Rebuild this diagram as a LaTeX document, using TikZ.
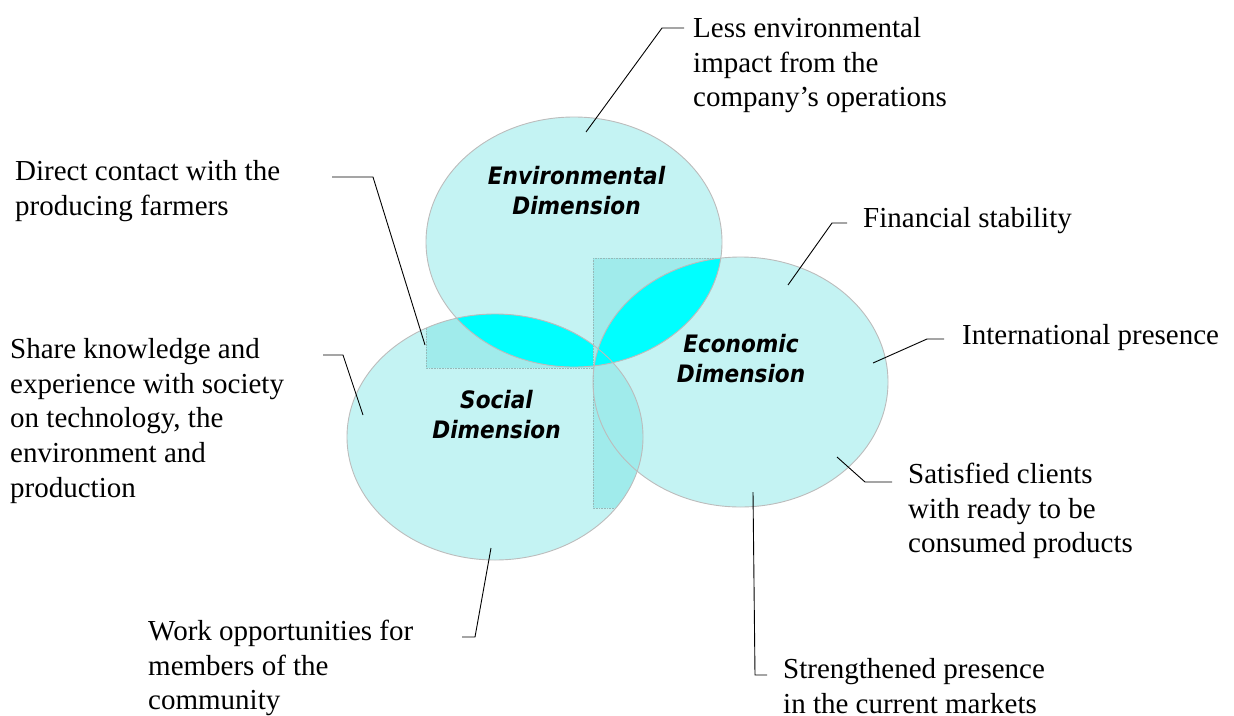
\documentclass[tikz,border=0pt]{standalone}
\usepackage{fontspec}
\setmainfont{Liberation Serif}
\newfontfamily\titlefont{DejaVu Sans Condensed}
\begin{document}
\begin{tikzpicture}[x=1pt,y=-1pt,
  lightfill/.style={fill=lightcyan},
  tintfill/.style={fill=tintcyan},
  lensfill/.style={fill=lenscyan},
  rim/.style={draw=rimgray, line width=0.9pt},
  boxedge/.style={draw=edgegray, line width=0.6pt, densely dotted},
  leader/.style={draw=black, line width=0.9pt},
  label/.style={anchor=north west, inner sep=0pt, align=left,
    font=\fontsize{29}{34.8}\selectfont},
  dimtitle/.style={anchor=north, inner sep=0pt, align=center,
    font=\titlefont\bfseries\itshape\fontsize{24}{30}\selectfont}]

\definecolor{lightcyan}{RGB}{196,243,243}
\definecolor{tintcyan}{RGB}{160,235,235}
\definecolor{lenscyan}{RGB}{0,255,255}
\definecolor{rimgray}{RGB}{188,188,188}
\definecolor{edgegray}{RGB}{150,185,185}

\newcommand\envshape{(574,242) ellipse [x radius=148pt, y radius=125pt]}
\newcommand\socshape{(495,437) ellipse [x radius=148pt, y radius=123pt]}
\newcommand\ecoshape{(740.5,382) ellipse [x radius=147.5pt, y radius=125pt]}
\newcommand\leftbox{(426,243) rectangle (597,368)}
\newcommand\rightbox{(593,258) rectangle (741,508)}
\newcommand\strutA{\rule{0pt}{24pt}}
\newcommand\strutB{\rule{0pt}{22pt}}

\useasboundingbox (0,0) rectangle (1234,715);

% base discs
\path[lightfill] \envshape;
\path[lightfill] \socshape;
\path[lightfill] \ecoshape;

% shaded block under the social/environmental overlap
\begin{scope}
  \clip \socshape;
  \path[tintfill] \leftbox;
  \path[boxedge] \leftbox;
\end{scope}

% environmental / social overlap
\begin{scope}
  \clip \envshape;
  \path[lensfill] \socshape;
\end{scope}

% shaded block along the left side of the economic disc
\begin{scope}
  \clip \socshape;
  \path[tintfill] \rightbox;
  \path[boxedge] \rightbox;
\end{scope}
\begin{scope}
  \clip \envshape;
  \path[tintfill] \rightbox;
  \path[boxedge] \rightbox;
\end{scope}

% environmental / economic overlap
\begin{scope}
  \clip \envshape;
  \path[lensfill] \ecoshape;
\end{scope}

% outlines
\path[rim] \envshape;
\path[rim] \socshape;
\path[rim] \ecoshape;

% dimension titles
\node[dimtitle] (envtitle) at (576.5,162) {\strutB Environmental\\Dimension};
\node[dimtitle] (ecotitle) at (741,330) {\strutB Economic\\Dimension};
\node[dimtitle] (soctitle) at (496.5,386) {\strutB Social\\Dimension};

% outer labels
\node[label] (lessimpact) at (693,13) {\strutA Less environmental\\impact from the\\company’s operations};
\node[label] (directcontact) at (15,156) {\strutA Direct contact with the\\producing farmers};
\node[label] (shareknow) at (10,334) {\strutA Share knowledge and\\experience with society\\on technology, the\\environment and\\production};
\node[label] (financial) at (863,203) {\strutA Financial stability};
\node[label] (international) at (962,320) {\strutA International presence};
\node[label] (satisfied) at (908,459) {\strutA Satisfied clients\\with ready to be\\consumed products};
\node[label] (strengthened) at (783,654) {\strutA Strengthened presence\\in the current markets};
\node[label] (workopp) at (148,616) {\strutA Work opportunities for\\members of the\\community};

% leader lines
\coordinate (l1a) at (586,132); \coordinate (l1b) at (662,28); \coordinate (l1c) at (684,28);
\coordinate (l2a) at (425,345); \coordinate (l2b) at (373,177); \coordinate (l2c) at (332,177);
\coordinate (l3a) at (363,415); \coordinate (l3b) at (343,355); \coordinate (l3c) at (323,355);
\coordinate (l4a) at (788,285); \coordinate (l4b) at (832,223); \coordinate (l4c) at (847,223);
\coordinate (l5a) at (873,363); \coordinate (l5b) at (927,339); \coordinate (l5c) at (944,339);
\coordinate (l6a) at (837,457); \coordinate (l6b) at (865,482); \coordinate (l6c) at (892,482);
\coordinate (l7a) at (753,492); \coordinate (l7b) at (755,675); \coordinate (l7c) at (767,675);
\coordinate (l8a) at (491,548); \coordinate (l8b) at (475,637); \coordinate (l8c) at (462,637);

\draw[leader] (l1a) -- (l1b) -- (l1c);
\draw[leader] (l2a) -- (l2b) -- (l2c);
\draw[leader] (l3a) -- (l3b) -- (l3c);
\draw[leader] (l4a) -- (l4b) -- (l4c);
\draw[leader] (l5a) -- (l5b) -- (l5c);
\draw[leader] (l6a) -- (l6b) -- (l6c);
\draw[leader] (l7a) -- (l7b) -- (l7c);
\draw[leader] (l8a) -- (l8b) -- (l8c);
\end{tikzpicture}
\end{document}
